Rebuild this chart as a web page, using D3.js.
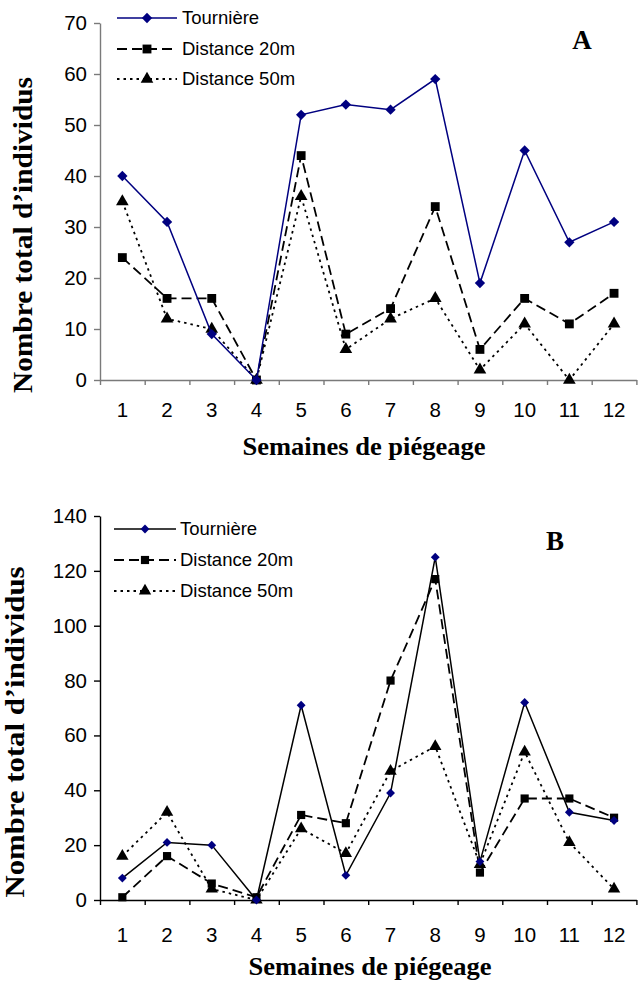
<!DOCTYPE html>
<html>
<head>
<meta charset="utf-8">
<script src="https://cdn.jsdelivr.net/npm/d3@7"></script>
<style>
  html, body { margin: 0; padding: 0; background: #fff; }
  svg { display: block; }
</style>
</head>
<body>
<svg id="chart" width="638" height="987"></svg>
<script>
// ---- Data ----
const weeks = ["1","2","3","4","5","6","7","8","9","10","11","12"];
const seriesNames = ["Tournière", "Distance 20m", "Distance 50m"];
const xTitle = "Semaines de piégeage";
const yTitle = "Nombre total d’individus";

// Panel A
const A_tourniere = [40, 31, 9, 0, 52, 54, 53, 59, 19, 45, 27, 31];
const A_dist20    = [24, 16, 16, 0, 44, 9, 14, 34, 6, 16, 11, 17];
const A_dist50    = [35, 12, 10, 0, 36, 6, 12, 16, 2, 11, 0, 11];
const A_yTicks    = [0, 10, 20, 30, 40, 50, 60, 70];

// Panel B
const B_tourniere = [8, 21, 20, 0, 71, 9, 39, 125, 14, 72, 32, 29];
const B_dist20    = [1, 16, 6, 1, 31, 28, 80, 117, 10, 37, 37, 30];
const B_dist50    = [16, 32, 4, 0, 26, 17, 47, 56, 13, 54, 21, 4];
const B_yTicks    = [0, 20, 40, 60, 80, 100, 120, 140];

const svg = d3.select("#chart");
const SANS = "'Liberation Sans', Arial, sans-serif";
const SERIF = "'Liberation Serif', 'Times New Roman', serif";
const NAVY = "#000080";

function drawPanel(cfg) {
  const g = svg.append("g");
  const x = d3.scaleBand().domain(weeks).range([cfg.left, cfg.right]).padding(0);
  const xb = d3.scaleLinear().domain([0, weeks.length]).range([cfg.left, cfg.right]);
  const y = d3.scaleLinear().domain([0, cfg.yMax]).range([cfg.bottom, cfg.top]);

  // Y axis
  const yAxis = g.append("g").attr("transform", `translate(${cfg.left},0)`)
    .call(d3.axisLeft(y).tickValues(cfg.yTicks).tickSize(6).tickPadding(7).tickSizeOuter(0));
  yAxis.select(".domain").attr("stroke", cfg.axisColor).attr("stroke-width", 1.4);
  yAxis.selectAll(".tick line").attr("stroke", cfg.axisColor).attr("stroke-width", 1.4);
  yAxis.selectAll(".tick text").attr("font-family", SANS).attr("font-size", 20.5).attr("fill", "#000");

  // X axis: boundary ticks
  const xAxis = g.append("g").attr("transform", `translate(0,${cfg.bottom})`)
    .call(d3.axisBottom(xb).tickValues(d3.range(0, weeks.length + 1)).tickSize(5).tickFormat("").tickSizeOuter(0));
  xAxis.select(".domain").attr("stroke", cfg.axisColor).attr("stroke-width", 1.4);
  xAxis.selectAll(".tick line").attr("stroke", cfg.axisColor).attr("stroke-width", 1.4);
  // X labels
  const xLab = g.append("g").attr("transform", `translate(0,${cfg.bottom})`)
    .call(d3.axisBottom(x).tickSize(0).tickPadding(cfg.xLabelPad));
  xLab.select(".domain").remove();
  xLab.selectAll(".tick text").attr("font-family", SANS).attr("font-size", 20.5).attr("fill", "#000");

  // Titles
  g.append("text")
    .attr("x", cfg.xTitleX).attr("y", cfg.xTitleY)
    .attr("text-anchor", "middle")
    .attr("font-family", SERIF).attr("font-weight", "bold").attr("font-size", 26)
    .attr("textLength", 243).attr("lengthAdjust", "spacingAndGlyphs")
    .text(xTitle);
  g.append("text")
    .attr("transform", `translate(${cfg.yTitleX},${cfg.yTitleY}) rotate(-90)`)
    .attr("text-anchor", "middle")
    .attr("font-family", SERIF).attr("font-weight", "bold").attr("font-size", 27)
    .attr("textLength", cfg.yTitleLen).attr("lengthAdjust", "spacingAndGlyphs")
    .text(yTitle);
  g.append("text")
    .attr("x", cfg.letterX).attr("y", cfg.letterY)
    .attr("text-anchor", "middle")
    .attr("font-family", SERIF).attr("font-weight", "bold").attr("font-size", 27)
    .text(cfg.letter);

  const cx = i => x(weeks[i]) + x.bandwidth() / 2;
  const line = d3.line().x((d, i) => cx(i)).y(d => y(d));

  const styles = [
    { color: cfg.tLineColor, dash: null, width: 1.5, marker: "diamond", mColor: NAVY, mSize: cfg.diamondSize },
    { color: "#000", dash: "10,5", width: 1.8, marker: "square", mColor: "#000", mSize: cfg.squareSize },
    { color: "#000", dash: "2.5,4", width: 1.8, marker: "triangle", mColor: "#000", mSize: cfg.triSize }
  ];
  const symType = { square: d3.symbolSquare2, triangle: d3.symbolTriangle2 };
  function markerPath(s) {
    if (s.marker === "diamond") {
      return d3.symbol().type(d3.symbolSquare2).size(s.mSize)();
    }
    return d3.symbol().type(symType[s.marker]).size(s.mSize)();
  }

  // draw order: 50m, 20m, Tournière
  [2, 1, 0].forEach(k => {
    const s = styles[k];
    const data = cfg.series[k];
    g.append("path").datum(data)
      .attr("d", line).attr("fill", "none")
      .attr("stroke", s.color).attr("stroke-width", s.width)
      .attr("stroke-dasharray", s.dash);
    g.append("g").selectAll("path").data(data).join("path")
      .attr("d", markerPath(s))
      .attr("transform", (d, i) => s.marker === "diamond"
        ? `translate(${cx(i)},${y(d)}) rotate(45)` : `translate(${cx(i)},${y(d)})`)
      .attr("fill", s.mColor);
  });

  // Legend
  seriesNames.forEach((name, k) => {
    const s = styles[k];
    const ly = cfg.legY[k];
    g.append("line")
      .attr("x1", cfg.legX1).attr("x2", cfg.legX2).attr("y1", ly).attr("y2", ly)
      .attr("stroke", s.color).attr("stroke-width", s.width)
      .attr("stroke-dasharray", s.dash);
    g.append("path")
      .attr("d", markerPath(s))
      .attr("transform", s.marker === "diamond"
        ? `translate(${(cfg.legX1 + cfg.legX2) / 2},${ly}) rotate(45)` : `translate(${(cfg.legX1 + cfg.legX2) / 2},${ly})`)
      .attr("fill", s.mColor);
    g.append("text")
      .attr("x", cfg.legTextX).attr("y", ly).attr("dy", "0.35em")
      .attr("font-family", SANS).attr("font-size", 18.5).attr("fill", "#000")
      .text(name);
  });
}

drawPanel({
  left: 100, right: 636.4, top: 23, bottom: 380, yMax: 70, yTicks: A_yTicks,
  axisColor: "#7a7a7a", xLabelPad: 22,
  xTitleX: 364, xTitleY: 455,
  yTitleX: 32, yTitleY: 235, yTitleLen: 316,
  letter: "A", letterX: 582, letterY: 49,
  tLineColor: NAVY,
  diamondSize: 68, squareSize: 100, triSize: 115,
  series: [A_tourniere, A_dist20, A_dist50],
  legY: [18, 49, 79], legX1: 117, legX2: 177, legTextX: 182
});

drawPanel({
  left: 100, right: 636.4, top: 516, bottom: 900, yMax: 140, yTicks: B_yTicks,
  axisColor: "#000", xLabelPad: 27,
  xTitleX: 370, xTitleY: 975,
  yTitleX: 24, yTitleY: 732, yTitleLen: 331,
  letter: "B", letterX: 555, letterY: 550,
  tLineColor: "#000",
  diamondSize: 50, squareSize: 85, triSize: 110,
  series: [B_tourniere, B_dist20, B_dist50],
  legY: [529, 560, 591], legX1: 114, legX2: 176, legTextX: 180
});
</script>
</body>
</html>
